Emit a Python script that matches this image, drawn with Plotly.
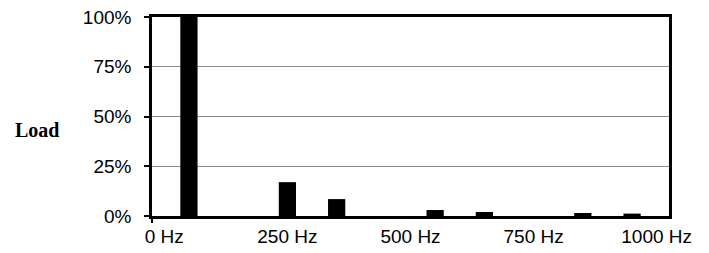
import plotly.graph_objects as go

freqs_hz = [50, 250, 350, 550, 650, 850, 950]
load_pct = [100, 17, 8.5, 3, 2, 1.5, 1.2]
tick_vals = [0, 250, 500, 750, 1000]
tick_text = ["0 Hz", "250 Hz", "500 Hz", "750 Hz", "1000 Hz"]
y_ticks = [0, 25, 50, 75, 100]

fig = go.Figure()
fig.add_trace(go.Bar(x=freqs_hz, y=load_pct, width=35,
                     marker=dict(color="black", line=dict(width=0)),
                     showlegend=False))
# invisible trace to place a single outer tick at the axis start
fig.add_trace(go.Scatter(x=[-25], y=[0], xaxis="x2", mode="markers",
                         marker=dict(opacity=0), showlegend=False, hoverinfo="skip"))

font = dict(family="Liberation Sans, Arial", size=19, color="black")
fig.update_layout(
    template="none",
    width=709, height=253,
    margin=dict(l=152, r=40, t=17, b=37, pad=0),
    paper_bgcolor="white", plot_bgcolor="white",
    font=font,
    xaxis=dict(range=[-25, 1025], tickvals=tick_vals, ticktext=tick_text,
               showgrid=False, zeroline=False, ticks="", automargin=False,
               showline=True, linecolor="black", linewidth=2.5, mirror=True,
               tickfont=font, ticklabelstandoff=1),
    xaxis2=dict(range=[-25, 1025], overlaying="x", tickvals=[-25], ticktext=[""],
                ticks="outside", ticklen=6, tickwidth=1.5, tickcolor="black",
                showgrid=False, zeroline=False, showline=False, side="bottom",
                anchor="y", automargin=False),
    yaxis=dict(range=[0, 100], tickvals=y_ticks,
               ticktext=[f"{v}%" for v in y_ticks], automargin=False,
               showgrid=True, gridcolor="#8c8c8c", gridwidth=1.2,
               zeroline=False, ticks="outside", ticklen=5, tickwidth=1.5,
               tickcolor="black", showline=True, linecolor="black",
               linewidth=2.5, mirror=True, tickfont=font, ticklabelstandoff=9),
    annotations=[dict(text="<b>Load</b>", xref="paper", yref="paper",
                      x=-0.222, y=0.433, xanchor="center", yanchor="middle",
                      showarrow=False,
                      font=dict(family="Liberation Serif, Times New Roman",
                                size=20, color="black"))],
)
fig.write_html("out.html", config={"displayModeBar": False},
               post_script="document.body.style.margin='0';document.body.style.overflow='hidden';")
